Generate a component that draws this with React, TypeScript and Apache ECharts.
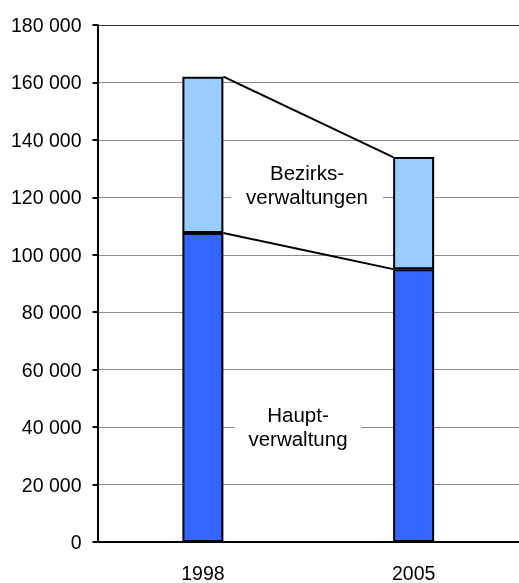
import React, { useEffect, useRef } from "react";
import * as echarts from "echarts";

const categories = ["1998", "2005"];
const hauptverwaltung = [107600, 95000];
const bezirksverwaltungen = [54400, 39000];
const yTicks = { min: 0, max: 180000, interval: 20000 };
const labelHaupt = "Haupt-\nverwaltung";
const labelBezirk = "Bezirks-\nverwaltungen";

const BAR_W = 41;
const FONT = "Liberation Sans, Arial, sans-serif";

export default function App() {
  const ref = useRef<HTMLDivElement>(null);
  useEffect(() => {
    if (!ref.current) return;
    const chart = echarts.init(ref.current, null, { renderer: "svg" });
    const totals = hauptverwaltung.map((v, i) => v + bezirksverwaltungen[i]);
    const connectorSeries = (vals: number[]) => ({
      type: "custom",
      z: 5,
      silent: true,
      data: vals.map((v, i) => [i, v]),
      renderItem: (params: any, api: any) => {
        const i = params.dataIndex;
        if (i >= vals.length - 1) return { type: "group", children: [] };
        const p0 = api.coord([i, vals[i]]);
        const p1 = api.coord([i + 1, vals[i + 1]]);
        return {
          type: "line",
          shape: { x1: p0[0] + BAR_W / 2, y1: p0[1], x2: p1[0] - BAR_W / 2, y2: p1[1] },
          style: { stroke: "#000", lineWidth: 2 },
        };
      },
    });
    const gridColors = Array.from({ length: 10 }, (_, i) => (i === 9 ? "#333" : "#8c8c8c"));
    chart.setOption({
      animation: false,
      grid: { left: 97.5, right: -3.5, top: 25, bottom: 40 },
      xAxis: {
        type: "category",
        data: categories,
        axisLine: { lineStyle: { color: "#000", width: 2 } },
        axisTick: { show: false },
        axisLabel: { color: "#000", fontSize: 19.5, fontFamily: FONT, margin: 21 },
      },
      yAxis: {
        type: "value",
        min: yTicks.min,
        max: yTicks.max,
        interval: yTicks.interval,
        axisLine: { show: true, lineStyle: { color: "#000", width: 2 } },
        axisTick: { show: true, length: 5, lineStyle: { color: "#000", width: 2 } },
        axisLabel: {
          color: "#000",
          fontSize: 19.5,
          fontFamily: FONT,
          margin: 16,
          formatter: (v: number) => (v >= 1000 ? `${Math.round(v / 1000)} 000` : `${v}`),
        },
        splitLine: { show: true, lineStyle: { color: gridColors, width: 1 } },
      },
      series: [
        {
          type: "bar",
          stack: "s",
          barWidth: BAR_W,
          data: hauptverwaltung,
          itemStyle: { color: "#3366FF", borderColor: "#000", borderWidth: 2 },
        },
        {
          type: "bar",
          stack: "s",
          barWidth: BAR_W,
          data: bezirksverwaltungen,
          itemStyle: { color: "#99CCFF", borderColor: "#000", borderWidth: 2 },
        },
        connectorSeries(hauptverwaltung),
        connectorSeries(totals),
      ],
      graphic: [
        {
          type: "text",
          x: 307,
          y: 184,
          z: 10,
          style: {
            text: labelBezirk,
            font: `20.5px ${FONT}`,
            fill: "#000",
            align: "center",
            verticalAlign: "middle",
            lineHeight: 24,
            backgroundColor: "#fff",
            padding: [2, 15, 2, 15],
          },
        },
        {
          type: "text",
          x: 298,
          y: 426,
          z: 10,
          style: {
            text: labelHaupt,
            font: `20.5px ${FONT}`,
            fill: "#000",
            align: "center",
            verticalAlign: "middle",
            lineHeight: 24,
            backgroundColor: "#fff",
            padding: [2, 14, 2, 14],
          },
        },
      ],
    });
    return () => chart.dispose();
  }, []);
  return <div ref={ref} style={{ width: 519, height: 583, position: "fixed", left: 0, top: 0 }} />;
}
